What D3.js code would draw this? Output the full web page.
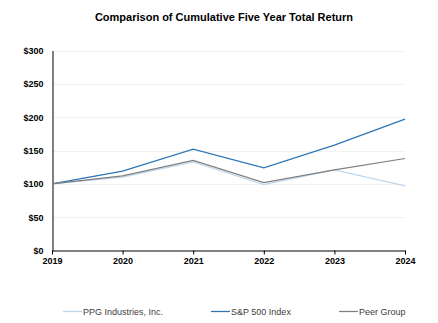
<!DOCTYPE html>
<html>
<head>
<meta charset="utf-8">
<script src="https://cdn.jsdelivr.net/npm/d3@7"></script>
<style>
  html, body { margin: 0; padding: 0; background: #fff; }
  svg { display: block; font-family: "Liberation Sans", Arial, sans-serif; }
</style>
</head>
<body>
<svg id="chart" width="438" height="323"></svg>
<script>
const years = ["2019", "2020", "2021", "2022", "2023", "2024"];
const ppg = [100, 110, 133, 99, 121, 97];
const sp500 = [100, 119, 152, 124, 158, 197];
const peer = [100, 112, 135, 102, 121, 138];
const yTicks = [0, 50, 100, 150, 200, 250, 300];
const seriesNames = ["PPG Industries, Inc.", "S&P 500 Index", "Peer Group"];
const seriesColors = ["#bdd7ee", "#2e75b6", "#7f7f7f"];

const series = [ppg, sp500, peer].map((vals, i) => ({
  name: seriesNames[i], color: seriesColors[i], values: vals
}));

const svg = d3.select("#chart");
const plotLeft = 52, plotRight = 405, plotTop = 50.5, plotBottom = 250.5;

const x = d3.scalePoint().domain(years).range([plotLeft, plotRight]);
const y = d3.scaleLinear().domain([0, 300]).range([plotBottom, plotTop]);

// Title
svg.append("text")
  .attr("x", 224).attr("y", 21)
  .attr("text-anchor", "middle")
  .attr("font-size", 11).attr("font-weight", "bold")
  .text("Comparison of Cumulative Five Year Total Return");

// Gridlines
svg.append("g").selectAll("line")
  .data(yTicks.filter(d => d > 0))
  .join("line")
  .attr("x1", plotLeft).attr("x2", plotRight)
  .attr("y1", d => Math.round(y(d)) + 0.5).attr("y2", d => Math.round(y(d)) + 0.5)
  .attr("stroke", "#f2f2f2").attr("stroke-width", 1);

// Y axis
const yAxis = svg.append("g")
  .attr("transform", `translate(${plotLeft + 0.5},0)`)
  .call(d3.axisLeft(y).tickValues(yTicks).tickSize(0).tickPadding(9)
    .tickFormat(d => "$" + d));
yAxis.select(".domain").attr("stroke", "#000");
yAxis.selectAll("text").attr("font-size", 9).attr("font-weight", "bold")
  .attr("fill", "#000").attr("font-family", "Liberation Sans, Arial, sans-serif");

// X axis
const xAxis = svg.append("g")
  .attr("transform", `translate(0,${plotBottom})`)
  .call(d3.axisBottom(x).tickSize(4).tickSizeOuter(0).tickPadding(3));
xAxis.select(".domain").attr("stroke", "#000");
xAxis.selectAll(".tick line").attr("stroke", "#000");
xAxis.selectAll("text").attr("font-size", 9).attr("font-weight", "bold")
  .attr("fill", "#000").attr("font-family", "Liberation Sans, Arial, sans-serif");

// Lines
const line = d3.line().x((d, i) => x(years[i])).y(d => y(d));
svg.append("g").selectAll("path")
  .data(series)
  .join("path")
  .attr("d", d => line(d.values))
  .attr("fill", "none")
  .attr("stroke", d => d.color)
  .attr("stroke-width", 1.25);

// Legend
const legendX = [63, 211, 339];
const lg = svg.append("g").selectAll("g")
  .data(series)
  .join("g")
  .attr("transform", (d, i) => `translate(${legendX[i]},311)`);
lg.append("line")
  .attr("x1", 0).attr("x2", 19).attr("y1", 0.5).attr("y2", 0.5)
  .attr("stroke", d => d.color).attr("stroke-width", 1.25);
lg.append("text")
  .attr("x", 20).attr("y", 3.5)
  .attr("font-size", 9).attr("fill", "#404040")
  .text(d => d.name);
</script>
</body>
</html>
